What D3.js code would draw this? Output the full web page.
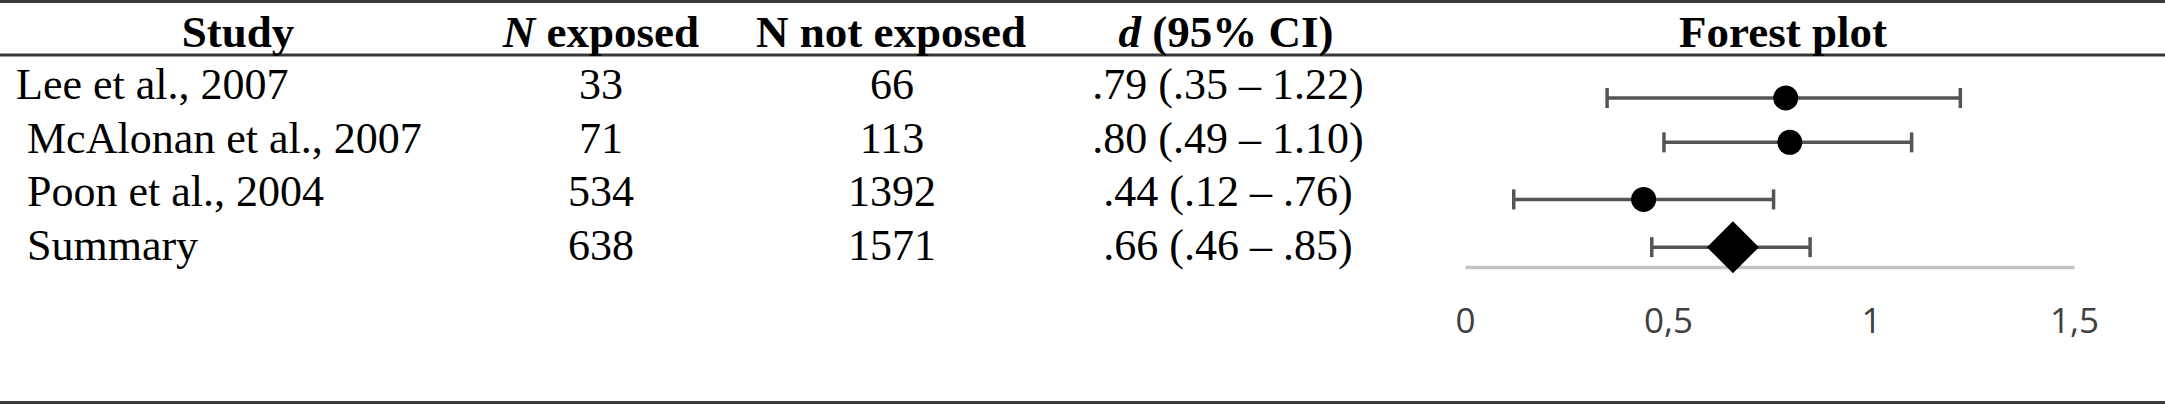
<!DOCTYPE html>
<html>
<head>
<meta charset="utf-8">
<script src="https://cdn.jsdelivr.net/npm/d3@7"></script>
<style>
  html, body { margin: 0; padding: 0; background: #fff; }
  svg { display: block; }
  text { white-space: pre; }
</style>
</head>
<body>
<svg id="chart" width="2165" height="405"></svg>
<script>
// ---- data ----
const studies = ["Lee et al., 2007", " McAlonan et al., 2007", " Poon et al., 2004", " Summary"];
const nExposed = [33, 71, 534, 638];
const nNotExposed = [66, 113, 1392, 1571];
const dValue = [0.79, 0.80, 0.44, 0.66];
const ciLow = [0.35, 0.49, 0.12, 0.46];
const ciHigh = [1.22, 1.10, 0.76, 0.85];
const dLabels = [".79 (.35 \u2013 1.22)", ".80 (.49 \u2013 1.10)", ".44 (.12 \u2013 .76)", ".66 (.46 \u2013 .85)"];
const forestY = [4.0, 2.95, 1.6, 0.47]; // vertical position of each row in the embedded plot
const xTicks = [0, 0.5, 1, 1.5];
const xTickLabels = ["0", "0,5", "1", "1,5"];

// ---- layout ----
const W = 2165, H = 405;
const svg = d3.select("#chart");
const serif = "'Liberation Serif', 'Times New Roman', serif";
const lineColor = "#383838";

// table rules
[[1.5], [55], [402.5]].forEach(([y]) => {
  svg.append("line").attr("x1", 0).attr("x2", W).attr("y1", y).attr("y2", y)
    .attr("stroke", lineColor).attr("stroke-width", 3);
});

// header
const header = svg.append("g").attr("font-family", serif).attr("font-size", 45)
  .attr("font-weight", "bold").attr("text-anchor", "middle").attr("fill", "#000");
const headerY = 46.5;
header.append("text").attr("x", 238).attr("y", headerY).text("Study");
const h2 = header.append("text").attr("x", 601).attr("y", headerY);
h2.append("tspan").attr("font-style", "italic").text("N");
h2.append("tspan").text(" exposed");
header.append("text").attr("x", 891).attr("y", headerY).text("N not exposed");
const h4 = header.append("text").attr("x", 1226).attr("y", headerY);
h4.append("tspan").attr("font-style", "italic").text("d");
h4.append("tspan").text(" (95% CI)");
header.append("text").attr("x", 1783).attr("y", headerY).text("Forest plot");

// rows
const rowY = d3.scalePoint().domain(d3.range(studies.length)).range([99, 260]);
const body = svg.append("g").attr("font-family", serif).attr("font-size", 44).attr("fill", "#000");
body.selectAll("text.study").data(studies).join("text").attr("class", "study")
  .attr("x", 16).attr("y", (d, i) => rowY(i)).text(d => d);
body.selectAll("text.nexp").data(nExposed).join("text").attr("class", "nexp")
  .attr("text-anchor", "middle").attr("x", 601).attr("y", (d, i) => rowY(i)).text(d => d);
body.selectAll("text.nnot").data(nNotExposed).join("text").attr("class", "nnot")
  .attr("text-anchor", "middle").attr("x", 892).attr("y", (d, i) => rowY(i)).text(d => d);
body.selectAll("text.dci").data(dLabels).join("text").attr("class", "dci")
  .attr("text-anchor", "middle").attr("x", 1228).attr("y", (d, i) => rowY(i)).text(d => d);

// forest plot
const x = d3.scaleLinear().domain([0, 1.5]).range([1465, 2074]);
const y = d3.scaleLinear().domain([0, 4]).range([267, 98]);

const axis = d3.axisBottom(x).tickValues(xTicks)
  .tickFormat((d, i) => xTickLabels[i]).tickSize(0).tickSizeOuter(0);
const ag = svg.append("g").attr("transform", `translate(0,${y(0)})`).call(axis);
ag.select(".domain").attr("stroke", "#c3c3c3").attr("stroke-width", 3.5);
ag.selectAll(".tick text").attr("y", 66).attr("dy", 0)
  .attr("font-family", "'Open Sans', sans-serif").attr("font-size", 35).attr("fill", "#404040");

const rows = d3.range(studies.length).map(i => ({
  i, d: dValue[i], lo: ciLow[i], hi: ciHigh[i], fy: forestY[i], summary: i === studies.length - 1
}));
const fg = svg.append("g");
const whisk = "#555555";
const sw = 3.5;
fg.selectAll("line.ci").data(rows).join("line").attr("class", "ci")
  .attr("x1", d => x(d.lo)).attr("x2", d => x(d.hi))
  .attr("y1", d => y(d.fy)).attr("y2", d => y(d.fy))
  .attr("stroke", whisk).attr("stroke-width", sw);
fg.selectAll("line.capL").data(rows).join("line").attr("class", "capL")
  .attr("x1", d => x(d.lo)).attr("x2", d => x(d.lo))
  .attr("y1", d => y(d.fy) - 10).attr("y2", d => y(d.fy) + 10)
  .attr("stroke", whisk).attr("stroke-width", sw);
fg.selectAll("line.capR").data(rows).join("line").attr("class", "capR")
  .attr("x1", d => x(d.hi)).attr("x2", d => x(d.hi))
  .attr("y1", d => y(d.fy) - 10).attr("y2", d => y(d.fy) + 10)
  .attr("stroke", whisk).attr("stroke-width", sw);
fg.selectAll("circle.pt").data(rows.filter(r => !r.summary)).join("circle").attr("class", "pt")
  .attr("cx", d => x(d.d)).attr("cy", d => y(d.fy)).attr("r", 12.5).attr("fill", "#000");
const dia = 26;
fg.selectAll("path.sum").data(rows.filter(r => r.summary)).join("path").attr("class", "sum")
  .attr("d", d => {
    const cx = x(d.d), cy = y(d.fy);
    return `M${cx},${cy - dia}L${cx + dia},${cy}L${cx},${cy + dia}L${cx - dia},${cy}Z`;
  })
  .attr("fill", "#000");
</script>
</body>
</html>
